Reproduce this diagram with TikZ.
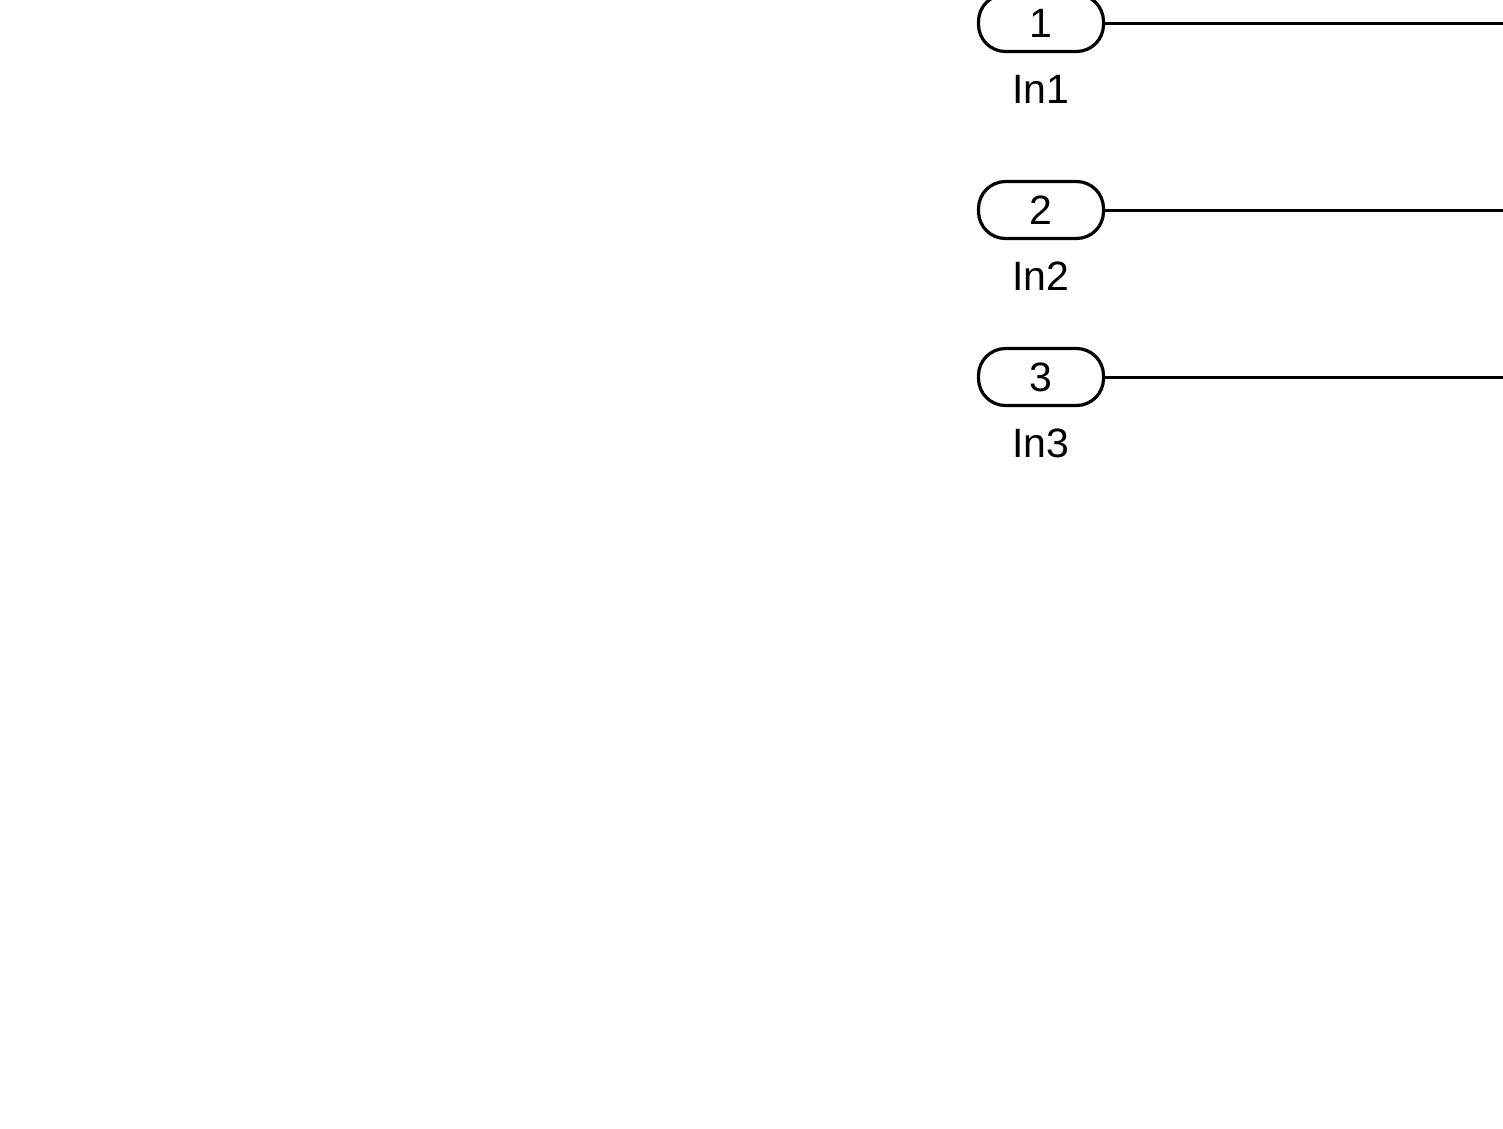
\documentclass[tikz,border=0pt]{standalone}
\usepackage{fontspec}
\setmainfont{Liberation Sans}
\begin{document}
\begin{tikzpicture}[x=1pt,y=-1pt,
  port/.style={draw=black, line width=3.2pt, rounded corners=27pt, minimum width=125pt, minimum height=57pt, inner sep=0pt, font=\fontsize{41}{48}\selectfont},
  plabel/.style={font=\fontsize{41}{48}\selectfont, inner sep=0pt},
  wire/.style={line width=3pt}]
\useasboundingbox[fill=white] (0,0) rectangle (1503,1128);
\node[port] (p1) at (1041,23) {1};
\node[port] (p2) at (1041,210) {2};
\node[port] (p3) at (1041,377) {3};
\node[plabel] (l1) at (1041,89) {In1};
\node[plabel] (l2) at (1041,276) {In2};
\node[plabel] (l3) at (1041,443) {In3};
\coordinate (e1) at (1503,23);
\coordinate (e2) at (1503,210);
\coordinate (e3) at (1503,377);
\draw[wire] (p1.east) -- (e1);
\draw[wire] (p2.east) -- (e2);
\draw[wire] (p3.east) -- (e3);
\end{tikzpicture}
\end{document}
